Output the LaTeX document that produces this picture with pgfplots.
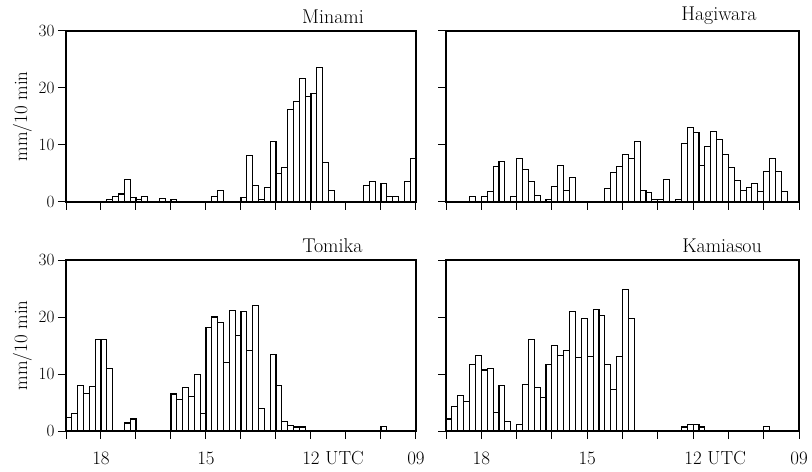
\documentclass[border=0pt]{standalone}
\usepackage{pgfplots}
\usepackage{pgfplotstable}
\pgfplotsset{compat=1.18}

% rainfall per 10 min; k = 10-min slot counted from 19 UTC
\pgfplotstableread{
k v
7 0.5
8 1.0
9 1.4
10 3.9
11 0.8
12 0.5
13 0.9
16 0.6
18 0.4
25 0.9
26 2.0
30 0.8
31 8.1
32 2.9
33 0.5
34 2.5
35 10.6
36 5.0
37 6.1
38 16.3
39 17.6
40 21.6
41 18.5
42 19.1
43 23.6
44 7.0
45 2.0
51 2.9
52 3.6
54 3.3
55 0.9
56 0.9
58 3.6
59 7.6
}\minami

\pgfplotstableread{
k v
4 1.0
6 1.0
7 1.9
8 6.2
9 7.1
11 1.0
12 7.7
13 5.7
14 3.6
15 1.1
17 0.5
18 2.7
19 6.4
20 2.0
21 4.3
27 2.3
28 5.1
29 6.2
30 8.3
31 7.6
32 10.6
33 2.0
34 1.7
35 0.5
36 0.5
37 4.0
39 0.5
40 10.3
41 13.0
42 12.2
43 6.4
44 9.8
45 12.4
46 10.9
47 8.3
48 6.1
49 3.7
50 2.0
51 2.5
52 3.3
53 1.9
54 5.4
55 7.6
56 5.4
57 1.9
}\hagiwara

\pgfplotstableread{
k v
0 2.4
1 3.1
2 8.0
3 6.6
4 7.8
5 16.0
6 16.0
7 11.0
10 1.4
11 2.1
18 6.5
19 5.6
20 7.7
21 6.0
22 9.9
23 3.0
24 18.1
25 20.0
26 19.0
27 12.0
28 21.1
29 16.8
30 20.9
31 14.1
32 22.0
33 4.0
35 13.4
36 8.0
37 1.7
38 0.9
39 0.7
40 0.7
54 0.8
}\tomika

\pgfplotstableread{
k v
0 2.1
1 4.3
2 6.3
3 5.2
4 11.7
5 13.2
6 10.7
7 11.0
8 3.3
9 8.0
10 1.7
12 1.2
13 8.2
14 16.0
15 7.6
16 5.8
17 11.6
18 15.0
19 13.3
20 14.2
21 20.9
22 12.9
23 19.8
24 13.0
25 21.3
26 20.3
27 11.7
28 7.3
29 13.1
30 24.9
31 19.8
40 0.7
41 1.1
42 1.1
43 0.7
54 0.8
}\kamiasou

\newcommand\txt{\fontsize{19}{21}\selectfont}
\newcommand\ttl{\fontsize{20}{22}\selectfont}

\pgfplotsset{
  rain/.style={
    scale only axis, height=171bp, clip=false,
    xmin=0, xmax=60, ymin=0, ymax=30,
    axis line style={line width=1.2bp},
    xtick={0,6,...,60}, ytick={0,10,20,30},
    xtick pos=bottom, ytick pos=left,
    tick align=outside, major tick length=8bp,
    tick style={line width=1bp, black},
    tick label style={font=\txt},
    xticklabel style={yshift=-9bp},
    label style={font=\txt},
    xticklabels={},
    ylabel={mm/10 min},
  },
  nolab/.style={yticklabels={}, ylabel={}},
  xlab/.style={xticklabels={,18,,,15,,,12\rlap{ UTC},,,09}},
  bars/.style={ybar, bar width=1, draw=black, fill=white, line width=1.1bp},
}

\begin{document}
\begin{tikzpicture}
\path[use as bounding box] (0,0) rectangle (812bp,472bp);

\begin{axis}[rain, width=350bp, at={(66bp,270bp)}, anchor=south west]
\addplot[bars] table[x expr=\thisrow{k}+0.5, y=v] {\minami};
\node[font=\ttl, anchor=base, yshift=7bp] at (rel axis cs:0.763,1) {Minami};
\end{axis}

\begin{axis}[rain, nolab, width=353bp, at={(446bp,270bp)}, anchor=south west]
\addplot[bars] table[x expr=\thisrow{k}+0.5, y=v] {\hagiwara};
\node[font=\ttl, anchor=base, yshift=10bp] at (rel axis cs:0.773,1) {Hagiwara};
\end{axis}

\begin{axis}[rain, xlab, width=350bp, at={(66bp,41bp)}, anchor=south west]
\addplot[bars] table[x expr=\thisrow{k}+0.5, y=v] {\tomika};
\node[font=\ttl, anchor=base, yshift=8bp] at (rel axis cs:0.761,1) {Tomika};
\end{axis}

\begin{axis}[rain, nolab, xlab, width=353bp, at={(446bp,41bp)}, anchor=south west]
\addplot[bars] table[x expr=\thisrow{k}+0.5, y=v] {\kamiasou};
\node[font=\ttl, anchor=base, yshift=8bp] at (rel axis cs:0.782,1) {Kamiasou};
\end{axis}
\end{tikzpicture}
\end{document}
